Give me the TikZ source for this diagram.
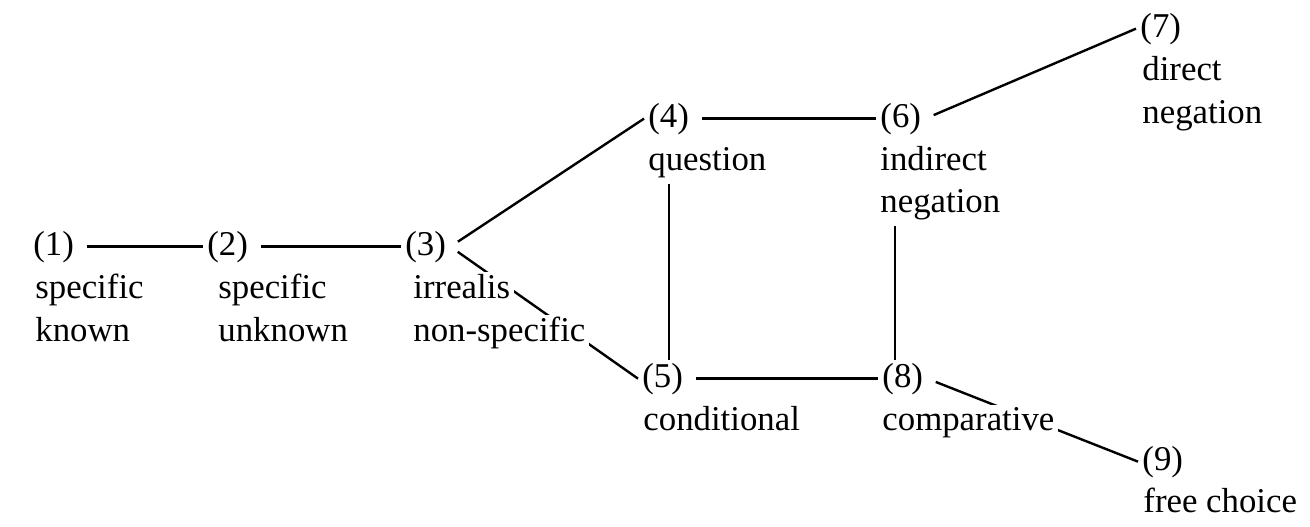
\documentclass[tikz,border=0pt]{standalone}
\usepackage{fontspec}
\setmainfont{Liberation Serif}
\usetikzlibrary{backgrounds}

\tikzset{
  num/.style={anchor=base west, inner xsep=2pt, inner ysep=1pt},
  lbl/.style={anchor=base west, fill=white, inner xsep=2pt, inner ysep=1pt},
  link/.style={line width=1.2pt, shorten <=4.5pt}
}

\begin{document}
\begin{tikzpicture}[x=0.5pt, y=-0.5pt, font=\fontsize{17.4pt}{21pt}\selectfont]
\useasboundingbox (0,0) rectangle (1310,526);

% functions
\node[num] (n1) at (29,255) {(1)};
\node[lbl] (n1a) at (31,298) {specific};
\node[lbl] (n1b) at (31,341) {known};

\node[num] (n2) at (203,255) {(2)};
\node[lbl] (n2a) at (214,298) {specific};
\node[lbl] (n2b) at (214,341) {unknown};

\node[num] (n3) at (401,255) {(3)};
\node[lbl] (n3a) at (409,298) {irrealis};
\node[lbl] (n3b) at (409,341) {non-specific};

\node[num] (n4) at (644,127) {(4)};
\node[lbl] (n4a) at (644,170) {question};

\node[num] (n5) at (638,387) {(5)};
\node[lbl] (n5a) at (639,430) {conditional};

\node[num] (n6) at (876,127) {(6)};
\node[lbl] (n6a) at (876,170) {indirect};
\node[lbl] (n6b) at (876,212) {negation};

\node[num] (n7) at (1136,37) {(7)};
\node[lbl] (n7a) at (1138,80) {direct};
\node[lbl] (n7b) at (1138,123) {negation};

\node[num] (n8) at (878,387) {(8)};
\node[lbl] (n8a) at (878,430) {comparative};

\node[num] (n9) at (1138,470) {(9)};
\node[lbl] (n9a) at (1139,512) {free choice};

% links, behind the labels
\begin{pgfonlayer}{background}
\draw[link] (n1) -- (n2);
\draw[link] (n2) -- (n3);
\draw[link] (n3.east) -- (n4.west);
\draw[link] (n3.east) -- (n5.west);
\draw[link] (n4) -- (n6);
\draw[link] (n5) -- (n8);
\draw[link] (n6.east) -- (n7.west);
\draw[link] (n8.east) -- (n9.west);
\draw[link, shorten <=2pt] (n4 |- n4a.south) -- (n4 |- n5.north);
\draw[link, shorten <=2pt] ([xshift=-3pt]n6 |- n6b.south) -- ([xshift=-3pt]n6 |- n8.north);
\end{pgfonlayer}
\end{tikzpicture}
\end{document}
